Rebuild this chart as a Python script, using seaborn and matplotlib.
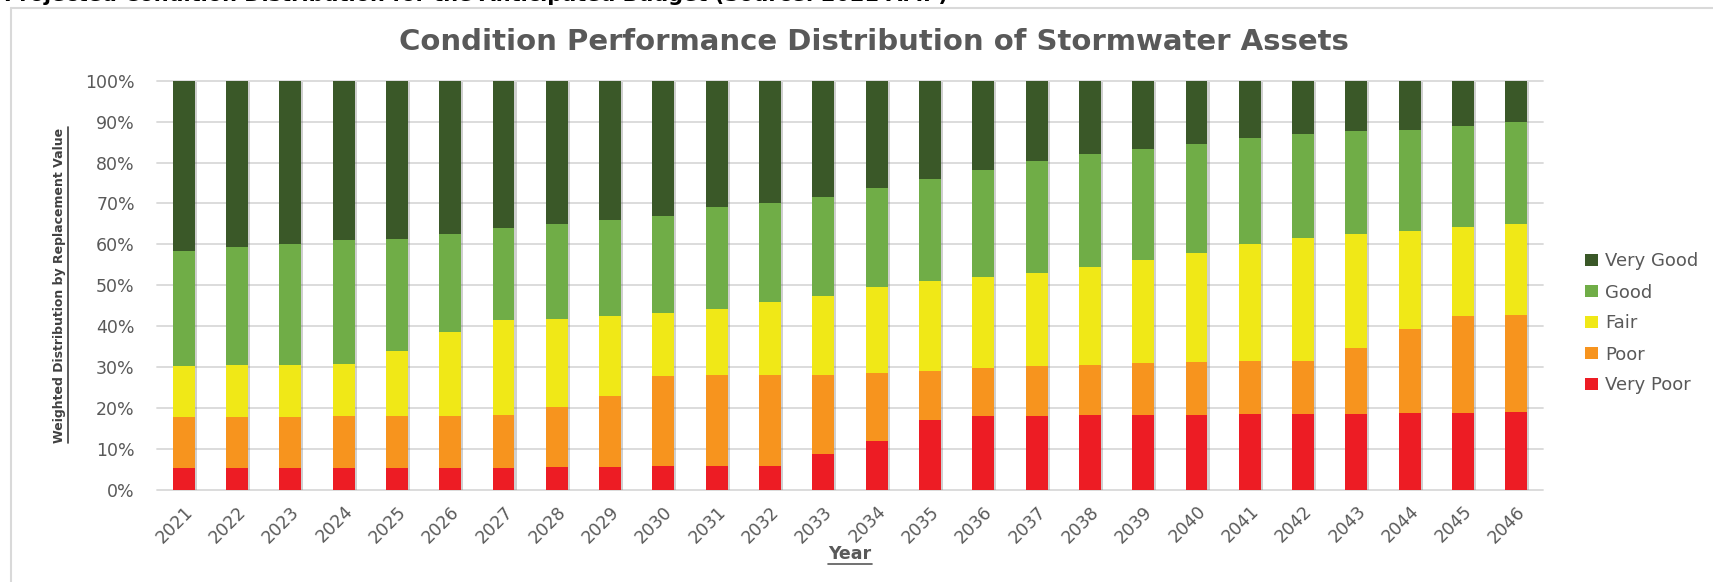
import matplotlib
matplotlib.use("Agg")
import matplotlib.pyplot as plt
import matplotlib.patheffects as pe
from matplotlib.patches import Patch
from matplotlib.lines import Line2D
import numpy as np
import pandas as pd
import seaborn as sns

# share of replacement value per condition, %
years = [str(y) for y in range(2021, 2047)]
very_poor = [5.3, 5.3, 5.3, 5.3, 5.3, 5.4, 5.4, 5.7, 5.7, 5.9, 5.9, 5.9, 8.7,
             12.0, 17.1, 18.1, 18.1, 18.3, 18.3, 18.3, 18.5, 18.5, 18.5, 18.8, 18.8, 19.0]
poor = [12.6, 12.6, 12.6, 12.7, 12.7, 12.6, 12.9, 14.5, 17.3, 21.9, 22.1, 22.1, 19.5,
        16.6, 11.9, 11.6, 12.2, 12.3, 12.7, 12.9, 13.0, 13.0, 16.1, 20.5, 23.6, 23.8]
fair = [12.4, 12.6, 12.6, 12.7, 16.0, 20.7, 23.2, 21.5, 19.4, 15.5, 16.3, 18.0, 19.3,
        21.0, 22.0, 22.3, 22.8, 23.8, 25.1, 26.8, 28.7, 30.0, 27.9, 24.0, 21.8, 22.2]
good = [28.0, 28.8, 29.6, 30.3, 27.4, 23.8, 22.5, 23.4, 23.5, 23.7, 24.8, 24.2, 24.2,
        24.3, 25.0, 26.2, 27.4, 27.8, 27.2, 26.6, 25.7, 25.5, 25.1, 24.7, 24.7, 24.8]
very_good = [41.7, 40.7, 39.9, 39.0, 38.6, 37.5, 36.0, 34.9, 34.1, 33.0, 30.9, 29.8, 28.3,
             26.1, 24.0, 21.8, 19.5, 17.8, 16.7, 15.4, 14.1, 13.0, 12.4, 12.0, 11.1, 10.2]

conditions = ["Very Poor", "Poor", "Fair", "Good", "Very Good"]
colors = ["#ED1C24", "#F7941E", "#F0E817", "#70AD47", "#3A5828"]

df = pd.DataFrame({"Year": years, "Very Poor": very_poor, "Poor": poor,
                   "Fair": fair, "Good": good, "Very Good": very_good})
cum = df[conditions].cumsum(axis=1)

sns.set_theme(style="white")
plt.rcParams["font.family"] = ["DejaVu Sans"]
txt = "#595959"
W, H = 1713, 582

fig = plt.figure(figsize=(W / 100, H / 100), dpi=100)
ax = fig.add_axes([157 / W, 1 - 490 / H, (1543 - 157) / W, (490 - 80.7) / H])

# stacked bars: draw cumulative totals from the top category down
for i, (cond, col) in enumerate(reversed(list(zip(conditions, colors)))):
    plot_df = pd.DataFrame({"Year": years, "val": cum[cond].values})
    sns.barplot(data=plot_df, x="Year", y="val", color=col, saturation=1,
                width=0.41, ax=ax, zorder=3 + i, linewidth=0)
    if i == 0:
        for p in ax.patches:
            p.set_path_effects([pe.SimplePatchShadow(offset=(1.5, -1), shadow_rgbFace="#777777",
                                                     alpha=0.35), pe.Normal()])

ax.set_xlim(-0.5, len(years) - 0.5)
ax.set_ylim(0, 100)
ax.set_yticks(np.arange(0, 101, 10))
ax.set_yticklabels([f"{v}%" for v in range(0, 101, 10)])
ax.yaxis.grid(True, color="#D9D9D9", lw=1.3, zorder=0)
ax.set_axisbelow(True)
for gl in ax.get_ygridlines():
    gl.set_clip_on(False)
for s in ax.spines.values():
    s.set_visible(False)
ax.set_xlabel("")
ax.set_ylabel("")
ax.tick_params(axis="y", length=0, pad=16, labelsize=12.5, labelcolor=txt)
ax.tick_params(axis="x", length=0, pad=9, labelsize=12.5, labelcolor=txt)
plt.setp(ax.get_xticklabels(), rotation=45, ha="right", va="top", rotation_mode="anchor")

fig.text(874 / W, 1 - 41.5 / H, "Condition Performance Distribution of Stormwater Assets",
         ha="center", va="center", fontsize=21, fontweight="bold", color=txt)
ylab = fig.text(60 / W, 1 - 285 / H, "Weighted Distribution by Replacement Value",
                rotation=90, ha="center", va="center", fontsize=9, fontweight="bold",
                color="#404040")
xlab = fig.text(850 / W, 1 - 554 / H, "Year", ha="center", va="center", fontsize=12.5,
                fontweight="bold", color=txt)

# caption above the chart frame, cut off by the top edge as in the source
fig.text(4 / W, 1 - 1 / H, "Projected Condition Distribution for the Anticipated Budget (Source: 2021 AMP)",
         ha="left", va="baseline", fontsize=15, fontweight="bold", color="black")

# chart frame
fig.add_artist(Line2D([11 / W, 11 / W], [0, 1 - 7.5 / H], transform=fig.transFigure,
                      color="#D9D9D9", lw=1.5))
fig.add_artist(Line2D([11 / W, 1], [1 - 7.5 / H, 1 - 7.5 / H], transform=fig.transFigure,
                      color="#D9D9D9", lw=1.5))

handles = [Patch(facecolor=c, edgecolor="none") for c in reversed(colors)]
fig.legend(handles, list(reversed(conditions)), loc="center left",
           bbox_to_anchor=(1585 / W, 1 - 323.5 / H), frameon=False, fontsize=13,
           labelcolor=txt, borderpad=0, borderaxespad=0, handlelength=0.7,
           handleheight=0.6, handletextpad=0.42, labelspacing=0.72)

# underline the axis titles
fig.canvas.draw()
r = fig.canvas.get_renderer()
bb = xlab.get_window_extent(r)
fig.add_artist(Line2D([bb.x0 / W, bb.x1 / W], [(bb.y0 - 1) / H] * 2, transform=fig.transFigure,
                      color=txt, lw=1.2))
bb = ylab.get_window_extent(r)
fig.add_artist(Line2D([(bb.x1 + 1) / W] * 2, [bb.y0 / H, bb.y1 / H], transform=fig.transFigure,
                      color="#404040", lw=1.2))

fig.savefig("out.png", dpi=100)
